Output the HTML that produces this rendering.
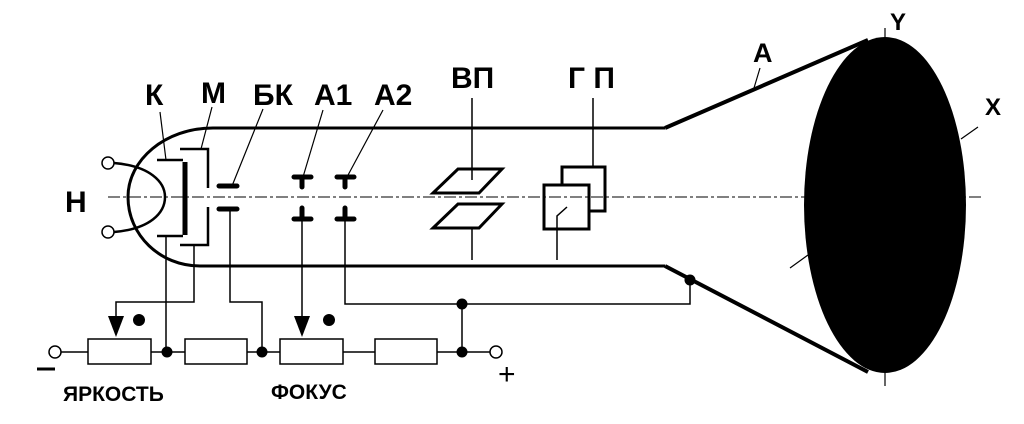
<!DOCTYPE html>
<html><head><meta charset="utf-8"><style>
html,body{margin:0;padding:0;background:#fff;}
svg{display:block;}
text{font-family:"Liberation Sans",sans-serif;font-weight:bold;fill:#000;}
</style></head><body>
<svg width="1024" height="424" viewBox="0 0 1024 424" xmlns="http://www.w3.org/2000/svg">
<g fill="none" stroke="#000">
<line x1="108" y1="197" x2="982" y2="197" stroke-width="1" stroke-dasharray="12,3,3,3"/>
<path d="M665,128 L213,128 C165,128 128,160 128,197 C128,235 160,266 200,266 L665,266" stroke-width="3"/>
<line x1="665" y1="128" x2="868" y2="40" stroke-width="4"/>
<line x1="665" y1="266" x2="868" y2="372" stroke-width="4"/>
<path d="M114,163 C150,166 165,182 165,197 C165,213 150,229 114,232" stroke-width="2.5"/>
<path d="M157,160 L183,160 M157,236 L183,236" stroke-width="2.5"/>
<line x1="185" y1="162" x2="185" y2="235" stroke-width="5"/>
<path d="M180,149 L208,149 L208,188 M208,207 L208,245 L180,245" stroke-width="2.5"/>
<path d="M219,186 L237,186 M219,209 L237,209" stroke-width="5" stroke-linecap="round"/>
<path d="M294,177 L311,177 M302,177 L302,187 M294,219 L311,219 M302,219 L302,208 M337,177 L354,177 M345,177 L345,187 M337,219 L354,219 M345,219 L345,208" stroke-width="5" stroke-linecap="round"/>
<path d="M160,112 L166,160 M212,107 L201,149 M263,109 L232,186 M323,110 L303,177 M383,110 L347,177" stroke-width="1.2"/>
<path d="M472,98 L472,180 M472,228 L472,260" stroke-width="1.5"/>
<polygon points="458,169 502,169 479,193 433,193" stroke-width="3"/>
<polygon points="458,204 502,204 479,228 433,228" stroke-width="3"/>
<path d="M593,98 L593,167" stroke-width="1.5"/>
<path d="M562,185 L562,167 L605,167 L605,211 L589,211" stroke-width="3"/>
<rect x="544" y="185" width="45" height="44" stroke-width="3"/>
<path d="M567,207 L557,216 L557,260" stroke-width="1.5"/>
<path d="M166,236 L166,352 M194,245 L194,302 L116,302 L116,318 M230,209 L230,302 L262,302 L262,352 M302,219 L302,318 M345,219 L345,304 L690,304 L690,280 M462,304 L462,352" stroke-width="1.5"/>
<path d="M61,352 L490,352" stroke-width="1.5"/>
<path d="M760,68 L754,88 M978,127 L961,139 M790,268 L808,255 M885,28 L885,45 M885,373 L885,386" stroke-width="1.2"/>
</g>
<g fill="#fff" stroke="#000" stroke-width="1.5">
<rect x="88" y="339" width="63" height="25"/>
<rect x="185" y="339" width="62" height="25"/>
<rect x="280" y="339" width="63" height="25"/>
<rect x="375" y="339" width="62" height="25"/>
<circle cx="55" cy="352" r="6"/>
<circle cx="496" cy="352" r="6"/>
<circle cx="108" cy="163" r="6"/>
<circle cx="108" cy="232" r="6"/>
</g>
<polygon points="108,316 124,316 116,337"/>
<polygon points="294,316 310,316 302,337"/>
<circle cx="139" cy="320" r="6"/>
<circle cx="329" cy="320" r="6"/>
<circle cx="167" cy="352" r="5.5"/>
<circle cx="262" cy="352" r="5.5"/>
<circle cx="462" cy="352" r="5.5"/>
<circle cx="462" cy="304" r="5.5"/>
<circle cx="690" cy="280" r="5.5"/>
<ellipse cx="885" cy="205" rx="81" ry="168"/>
<line x1="37" y1="369" x2="55" y2="369" stroke="#000" stroke-width="3"/>
<text x="498" y="384" font-size="30" style="font-weight:normal">+</text>
<text x="145" y="105" font-size="30">К</text>
<text x="201" y="103" font-size="30">М</text>
<text x="253" y="105" font-size="30">БК</text>
<text x="314" y="105" font-size="30">А1</text>
<text x="374" y="105" font-size="30">А2</text>
<text x="451" y="88" font-size="30">ВП</text>
<text x="568" y="88" font-size="30">Г П</text>
<text x="65" y="212" font-size="30">Н</text>
<text x="753" y="62" font-size="27">А</text>
<text x="890" y="30" font-size="24">Y</text>
<text x="985" y="115" font-size="24">X</text>
<text x="63" y="401" font-size="21">ЯРКОСТЬ</text>
<text x="271" y="399" font-size="21">ФОКУС</text>
</svg>
</body></html>
